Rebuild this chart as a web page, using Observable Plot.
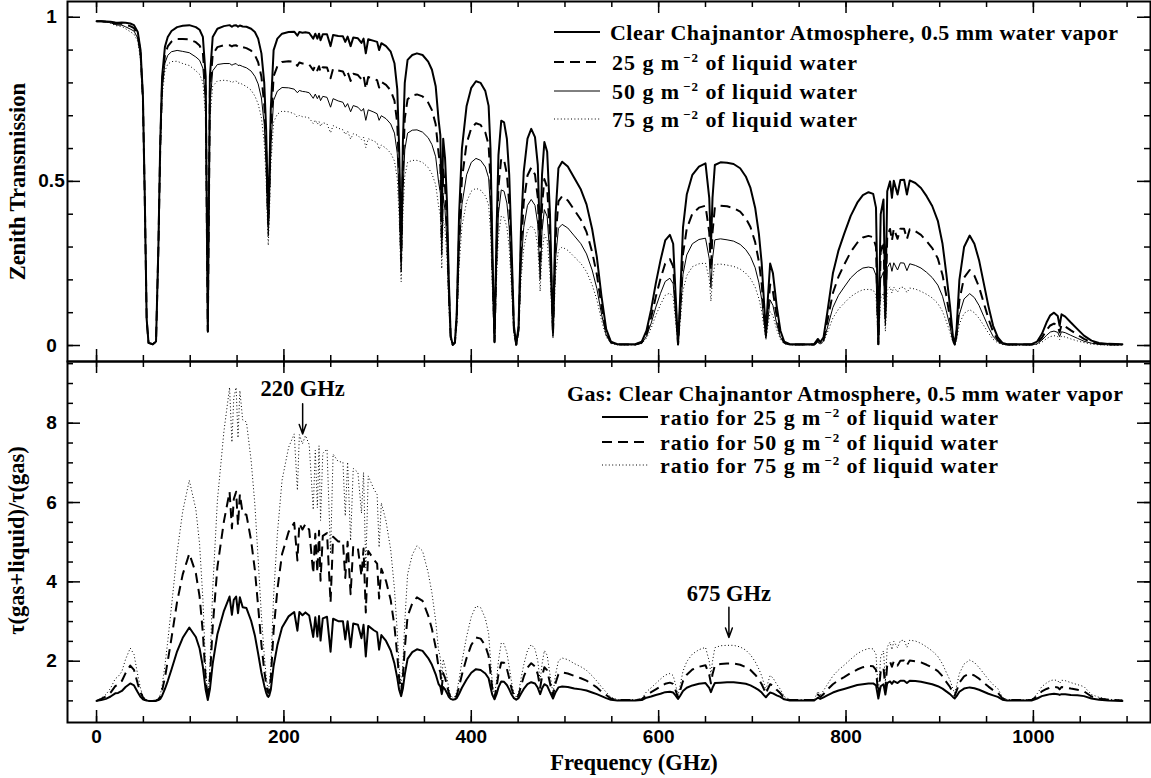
<!DOCTYPE html>
<html><head><meta charset="utf-8">
<script src="https://cdn.jsdelivr.net/npm/d3@7"></script>
<script src="https://cdn.jsdelivr.net/npm/@observablehq/plot@0.6"></script>
<style>
html,body{margin:0;padding:0;background:#fff;}
#chart{position:relative;width:1151px;height:778px;background:#fff;overflow:hidden;}
#chart svg{position:absolute;left:0;top:0;}
</style></head><body><div id="chart"></div>
<script>
// ---------------- DATA ----------------
const freq = [
0,5,10,15,20,23,27,31,36,40,
44,47,49.5,51.5,53.5,55.5,60,63.5,66,68,
70,73,76,80,86,92,99,106,110,113.5,
116.5,118.75,121,124,129,136,142,144.5,146.5,149,
151,153,156,160,165,169,172.5,176,179,181,
182.5,183.3,184.3,186,189,193,198,205,211,214.4,
216.5,219.8,223,227,231.3,233.5,235.7,237.5,239.1,241.5,
246,249.8,252.5,258,263,265.5,268,271.2,274,279,
282.8,285,287.4,290,296,299.5,301.6,304,309,314,
318,321,323,325.15,327,329,332,337,342,348,
354,358,362,365,367,368.5,370,372,374,376,
378,380.2,382.5,384.5,387,390,395,400,405,410,
415,418.5,420.5,422.5,424.8,427,429,432,435,438,
440.5,443,445.5,448,450.5,453,456,460,464,468,
471,473.5,475.5,478,481,484,487.2,490,493,497,
503,510,517,523,529,534,539,544,549,556,
575,582,587,592,597,602,607,612,615.5,618,
620.7,623,626,630,636,643,650,654,655.8,657.5,
660,666,673,680,687,693,698,703,707,710,
712.5,714.5,716.5,719,722,726,730,734,740,766,
770,772.5,776,780,786,792,798,805,812,818,
824,829,832,834.5,837,840,842,844,847,849,
851,855,858,862,865,868,874,880,886,892,
898,903,907,911,914,916,918,921,926,932,
937,942,947,952,957,962,967,972,998,1004,
1009,1014,1018,1022,1026,1028,1030,1034,1040,1047,
1054,1062,1070,1080,1095];

// Zenith transmission, clear atmosphere (0.5 mm water vapor)
const clearT = [
.988,.988,.987,.986,.984,.983,.984,.983,.981,.976,
.955,.900,.760,.450,.080,.008,.004,.012,.300,.620,
.820,.910,.940,.958,.970,.974,.976,.970,.962,.940,
.820,.045,.820,.940,.965,.973,.976,.971,.975,.976,
.971,.975,.972,.971,.965,.955,.935,.890,.800,.660,
.480,.400,.500,.720,.900,.935,.950,.955,.956,.944,
.955,.953,.954,.952,.935,.950,.935,.950,.930,.948,
.948,.912,.946,.943,.942,.925,.941,.912,.938,.936,
.922,.935,.890,.933,.928,.925,.900,.921,.912,.895,
.860,.780,.600,.300,.620,.800,.870,.885,.890,.885,
.865,.840,.790,.690,.640,.380,.630,.570,.440,.200,
.030,.002,.010,.100,.400,.600,.730,.785,.805,.800,
.775,.730,.600,.300,.012,.350,.580,.685,.680,.630,
.520,.300,.060,.003,.060,.350,.530,.630,.660,.635,
.550,.300,.520,.620,.590,.400,.040,.400,.540,.560,
.545,.510,.475,.430,.355,.270,.150,.050,.012,.004,
.004,.012,.045,.110,.190,.260,.320,.337,.310,.160,
.004,.150,.360,.460,.520,.545,.555,.450,.300,.450,
.550,.558,.557,.553,.540,.515,.480,.420,.340,.250,
.130,.040,.140,.250,.220,.120,.045,.012,.004,.004,
.020,.010,.025,.100,.220,.290,.340,.395,.435,.458,
.467,.462,.420,.005,.400,.445,.120,.470,.500,.450,
.502,.460,.504,.505,.460,.503,.495,.480,.455,.425,
.380,.310,.220,.120,.030,.003,.050,.200,.300,.335,
.310,.260,.190,.120,.060,.025,.008,.004,.004,.012,
.035,.070,.092,.100,.090,.060,.095,.088,.070,.050,
.030,.015,.008,.005,.004];

// with 25 g m^-2 of liquid water
const liq25T = [
.988,.988,.986,.985,.981,.980,.980,.977,.973,.967,
.945,.890,.751,.444,.079,.008,.004,.012,.293,.605,
.799,.885,.911,.926,.934,.934,.933,.924,.914,.891,
.776,.043,.775,.887,.909,.915,.915,.911,.914,.915,
.910,.913,.909,.906,.898,.885,.863,.819,.734,.604,
.439,.366,.457,.657,.820,.851,.864,.866,.864,.852,
.862,.859,.859,.856,.839,.853,.838,.851,.833,.848,
.847,.814,.843,.838,.835,.820,.833,.806,.828,.824,
.811,.822,.782,.818,.812,.808,.786,.803,.794,.777,
.746,.676,.520,.260,.536,.691,.750,.762,.765,.759,
.740,.717,.674,.588,.545,.323,.536,.484,.374,.170,
.025,.002,.008,.085,.338,.507,.616,.662,.677,.672,
.649,.611,.502,.251,.010,.292,.483,.570,.565,.523,
.431,.249,.050,.002,.050,.289,.437,.518,.542,.521,
.451,.246,.425,.507,.482,.326,.033,.326,.439,.455,
.442,.413,.383,.346,.285,.217,.120,.040,.010,.003,
.003,.009,.035,.086,.149,.204,.250,.263,.241,.124,
.003,.116,.279,.356,.402,.420,.426,.345,.230,.345,
.421,.426,.424,.419,.408,.388,.361,.315,.255,.187,
.097,.030,.104,.186,.164,.089,.033,.009,.003,.003,
.015,.007,.018,.073,.160,.210,.246,.285,.313,.329,
.334,.330,.300,.004,.285,.317,.085,.334,.355,.319,
.356,.325,.356,.356,.324,.354,.348,.337,.318,.297,
.265,.215,.153,.083,.021,.002,.035,.138,.207,.230,
.213,.178,.130,.082,.041,.017,.005,.003,.003,.008,
.023,.047,.061,.067,.060,.040,.063,.058,.046,.033,
.020,.010,.005,.003,.003];

// with 50 g m^-2 of liquid water
const liq50T = [
.988,.987,.986,.983,.978,.976,.976,.971,.964,.958,
.936,.880,.742,.438,.078,.008,.004,.012,.287,.591,
.778,.860,.884,.895,.899,.896,.892,.879,.869,.845,
.735,.040,.732,.837,.856,.859,.859,.854,.857,.859,
.853,.854,.850,.846,.836,.820,.797,.754,.674,.553,
.402,.334,.417,.599,.747,.775,.786,.785,.781,.770,
.777,.774,.773,.770,.753,.766,.752,.762,.746,.759,
.756,.726,.752,.745,.741,.726,.737,.712,.731,.726,
.714,.722,.686,.718,.711,.706,.686,.700,.691,.675,
.647,.586,.450,.224,.463,.596,.647,.656,.657,.650,
.633,.612,.575,.501,.464,.275,.456,.411,.318,.144,
.022,.001,.007,.072,.286,.429,.520,.558,.570,.564,
.544,.511,.419,.209,.008,.243,.402,.474,.470,.434,
.358,.206,.041,.002,.041,.238,.360,.427,.445,.427,
.369,.201,.348,.414,.393,.266,.027,.265,.357,.369,
.358,.334,.310,.279,.230,.174,.096,.032,.008,.003,
.002,.007,.028,.068,.117,.159,.195,.205,.188,.097,
.002,.090,.217,.276,.310,.323,.327,.265,.176,.264,
.322,.325,.322,.318,.308,.292,.271,.237,.191,.140,
.073,.022,.078,.139,.122,.066,.025,.007,.002,.002,
.011,.005,.013,.053,.116,.153,.178,.206,.225,.236,
.239,.236,.214,.003,.203,.225,.061,.237,.252,.226,
.252,.230,.252,.251,.228,.249,.244,.236,.223,.207,
.184,.150,.106,.058,.014,.001,.024,.095,.142,.158,
.146,.122,.089,.056,.028,.012,.004,.002,.002,.005,
.016,.031,.041,.044,.040,.027,.042,.039,.031,.022,
.013,.007,.004,.002,.002];

// with 75 g m^-2 of liquid water
const liq75T = [
.988,.987,.985,.982,.975,.973,.972,.965,.956,.948,
.927,.871,.733,.433,.077,.008,.004,.011,.281,.577,
.758,.837,.857,.865,.866,.859,.853,.837,.826,.802,
.695,.038,.691,.790,.806,.808,.806,.801,.804,.806,
.799,.800,.795,.789,.778,.760,.736,.694,.618,.507,
.368,.305,.381,.546,.681,.705,.714,.712,.706,.695,
.701,.697,.696,.693,.676,.687,.674,.683,.668,.679,
.675,.648,.670,.662,.657,.643,.653,.629,.645,.640,
.628,.635,.603,.630,.623,.617,.598,.611,.601,.586,
.562,.508,.390,.194,.400,.515,.558,.564,.564,.558,
.542,.523,.490,.427,.395,.234,.388,.350,.270,.122,
.018,.001,.006,.061,.242,.362,.438,.470,.479,.473,
.456,.428,.351,.175,.007,.203,.335,.394,.390,.361,
.297,.171,.034,.002,.034,.197,.297,.351,.365,.351,
.303,.165,.285,.338,.321,.217,.022,.216,.290,.300,
.290,.270,.250,.225,.185,.140,.077,.026,.006,.002,
.002,.006,.022,.053,.092,.125,.153,.160,.146,.075,
.002,.070,.168,.213,.240,.249,.251,.203,.135,.203,
.247,.248,.245,.241,.233,.220,.204,.178,.143,.105,
.054,.017,.058,.103,.091,.049,.018,.005,.002,.002,
.008,.004,.010,.039,.084,.111,.129,.149,.162,.170,
.171,.169,.153,.002,.145,.160,.043,.168,.179,.160,
.178,.163,.178,.177,.161,.175,.172,.165,.156,.145,
.128,.104,.074,.040,.010,.001,.016,.066,.098,.109,
.100,.083,.061,.038,.019,.008,.003,.001,.001,.004,
.010,.021,.027,.030,.027,.018,.028,.026,.020,.014,
.009,.004,.002,.001,.001];

// tau(gas+liquid)/tau(gas) for 25, 50, 75 g m^-2
const ratio25 = [
1.00,1.02,1.05,1.11,1.19,1.20,1.25,1.35,1.44,1.39,
1.22,1.10,1.04,1.02,1.01,1.00,1.00,1.00,1.02,1.05,
1.13,1.30,1.50,1.79,2.25,2.59,2.85,2.61,2.32,1.86,
1.28,1.02,1.29,1.94,2.68,3.27,3.63,3.17,3.55,3.63,
3.21,3.61,3.36,3.34,3.02,2.65,2.19,1.71,1.39,1.21,
1.12,1.10,1.13,1.28,1.88,2.40,2.85,3.13,3.24,2.77,
3.24,3.16,3.23,3.15,2.61,3.11,2.62,3.14,2.52,3.08,
3.12,2.24,3.07,3.01,3.01,2.55,3.01,2.35,2.95,2.92,
2.58,2.92,2.12,2.89,2.78,2.73,2.29,2.66,2.51,2.27,
1.94,1.58,1.28,1.12,1.31,1.66,2.06,2.23,2.30,2.26,
2.08,1.91,1.67,1.43,1.36,1.17,1.35,1.29,1.20,1.10,
1.05,1.03,1.04,1.07,1.18,1.33,1.54,1.71,1.80,1.78,
1.69,1.57,1.35,1.15,1.04,1.17,1.34,1.49,1.48,1.40,
1.29,1.16,1.07,1.03,1.07,1.18,1.30,1.42,1.47,1.44,
1.33,1.17,1.31,1.42,1.38,1.22,1.06,1.22,1.34,1.36,
1.35,1.31,1.29,1.26,1.21,1.17,1.12,1.07,1.03,1.01,
1.01,1.02,1.08,1.11,1.15,1.18,1.22,1.23,1.21,1.14,
1.05,1.13,1.25,1.33,1.39,1.43,1.45,1.33,1.22,1.33,
1.45,1.46,1.47,1.47,1.45,1.43,1.39,1.33,1.27,1.21,
1.14,1.09,1.15,1.21,1.19,1.14,1.10,1.04,1.01,1.01,
1.08,1.05,1.09,1.14,1.21,1.26,1.30,1.35,1.40,1.42,
1.44,1.44,1.39,1.06,1.37,1.42,1.16,1.45,1.49,1.43,
1.50,1.45,1.51,1.51,1.45,1.51,1.50,1.48,1.45,1.42,
1.37,1.31,1.24,1.17,1.10,1.06,1.12,1.23,1.31,1.34,
1.32,1.28,1.23,1.18,1.14,1.10,1.03,1.01,1.01,1.06,
1.12,1.15,1.17,1.18,1.17,1.15,1.17,1.17,1.15,1.14,
1.12,1.06,1.03,1.01,1.00];

const ratio50 = [
1.00,1.05,1.11,1.21,1.37,1.41,1.50,1.70,1.89,1.78,
1.43,1.21,1.09,1.03,1.01,1.00,1.00,1.01,1.04,1.10,
1.26,1.59,2.00,2.58,3.50,4.19,4.71,4.22,3.63,2.71,
1.55,1.04,1.57,2.87,4.37,5.53,6.27,5.35,6.09,6.27,
5.42,6.21,5.72,5.69,5.04,4.30,3.38,2.42,1.77,1.42,
1.24,1.20,1.26,1.56,2.77,3.80,4.70,5.26,5.49,4.54,
5.47,5.32,5.46,5.31,4.21,5.21,4.24,5.29,4.03,5.16,
5.23,3.48,5.14,5.02,5.02,4.10,5.01,3.69,4.91,4.84,
4.15,4.84,3.23,4.78,4.56,4.46,3.58,4.33,4.02,3.54,
2.88,2.15,1.56,1.24,1.61,2.32,3.13,3.46,3.61,3.52,
3.15,2.81,2.35,1.86,1.72,1.33,1.70,1.58,1.40,1.20,
1.09,1.05,1.07,1.14,1.36,1.66,2.08,2.41,2.60,2.57,
2.39,2.13,1.70,1.30,1.08,1.35,1.67,1.97,1.96,1.81,
1.57,1.31,1.13,1.07,1.14,1.37,1.61,1.84,1.95,1.87,
1.67,1.33,1.61,1.85,1.77,1.45,1.13,1.45,1.67,1.72,
1.69,1.63,1.57,1.51,1.42,1.34,1.23,1.15,1.06,1.02,
1.02,1.04,1.15,1.22,1.29,1.36,1.43,1.46,1.43,1.27,
1.09,1.27,1.50,1.66,1.79,1.86,1.90,1.66,1.44,1.67,
1.89,1.93,1.94,1.94,1.91,1.85,1.78,1.66,1.54,1.42,
1.29,1.18,1.30,1.42,1.39,1.28,1.19,1.07,1.02,1.02,
1.16,1.10,1.17,1.28,1.42,1.52,1.60,1.70,1.79,1.85,
1.88,1.87,1.78,1.13,1.74,1.84,1.32,1.91,1.99,1.86,
2.00,1.89,2.01,2.02,1.90,2.02,2.00,1.97,1.91,1.84,
1.75,1.62,1.48,1.35,1.21,1.13,1.25,1.46,1.62,1.69,
1.64,1.56,1.46,1.36,1.27,1.21,1.06,1.02,1.02,1.12,
1.24,1.30,1.34,1.35,1.34,1.29,1.35,1.34,1.31,1.28,
1.24,1.11,1.06,1.03,1.01];

const ratio75 = [
1.00,1.07,1.16,1.32,1.56,1.61,1.74,2.05,2.33,2.17,
1.65,1.31,1.13,1.05,1.02,1.01,1.01,1.01,1.05,1.15,
1.39,1.89,2.50,3.38,4.74,5.78,6.56,5.83,4.95,3.57,
1.83,1.05,1.86,3.81,6.05,7.80,8.90,7.52,8.64,8.90,
7.63,8.82,8.08,8.03,7.06,5.95,4.57,3.14,2.16,1.64,
1.36,1.29,1.39,1.84,3.65,5.20,6.56,7.39,7.73,6.31,
7.71,7.48,7.69,7.46,5.82,7.32,5.87,7.43,5.55,7.24,
7.35,4.71,7.22,7.03,7.02,5.66,7.02,5.04,6.86,6.76,
5.73,6.76,4.35,6.67,6.34,6.20,4.87,5.99,5.53,4.81,
3.82,2.73,1.85,1.36,1.92,2.98,4.19,4.68,4.91,4.78,
4.23,3.72,3.02,2.29,2.08,1.50,2.05,1.87,1.60,1.31,
1.14,1.08,1.11,1.22,1.55,1.99,2.62,3.12,3.39,3.35,
3.08,2.70,2.05,1.45,1.12,1.52,2.01,2.46,2.44,2.21,
1.86,1.47,1.20,1.10,1.20,1.55,1.91,2.27,2.42,2.31,
2.00,1.50,1.92,2.27,2.15,1.67,1.19,1.67,2.01,2.08,
2.04,1.94,1.86,1.77,1.63,1.50,1.35,1.22,1.09,1.03,
1.03,1.05,1.23,1.33,1.44,1.55,1.65,1.69,1.64,1.41,
1.14,1.40,1.75,1.99,2.18,2.29,2.35,2.00,1.66,2.00,
2.34,2.39,2.40,2.40,2.36,2.28,2.16,1.99,1.80,1.63,
1.43,1.27,1.45,1.64,1.58,1.42,1.29,1.11,1.03,1.03,
1.24,1.15,1.26,1.41,1.63,1.78,1.90,2.05,2.19,2.27,
2.32,2.31,2.17,1.19,2.11,2.26,1.48,2.36,2.48,2.29,
2.50,2.34,2.52,2.53,2.35,2.53,2.51,2.45,2.36,2.26,
2.12,1.93,1.72,1.52,1.31,1.19,1.37,1.69,1.93,2.03,
1.97,1.84,1.69,1.54,1.41,1.31,1.09,1.03,1.03,1.18,
1.36,1.45,1.51,1.53,1.51,1.44,1.52,1.51,1.46,1.41,
1.36,1.16,1.09,1.04,1.02];

// tick values and labels
const xMajorTicks = [0, 200, 400, 600, 800, 1000];
const xMinorTicks = [0,50,100,150,200,250,300,350,400,450,500,550,600,650,700,750,800,850,900,950,1000,1050,1100];
const yTopMajorTicks = [0, 0.5, 1];
const yTopMinorTicks = [0,0.1,0.2,0.3,0.4,0.5,0.6,0.7,0.8,0.9,1];
const yBotMajorTicks = [2, 4, 6, 8];
const yBotMinorTicks = [1,1.5,2,2.5,3,3.5,4,4.5,5,5.5,6,6.5,7,7.5,8,8.5,9,9.5];

// texts
const xLabel = "Frequency (GHz)";
const yTopLabel = "Zenith Transmission";
const yBotLabel = "\u03c4(gas+liquid)/\u03c4(gas)";
const legendTop = [
  ["Clear Chajnantor Atmosphere, 0.5 mm water vapor"],
  ["25 g m", "\u22122", " of liquid water"],
  ["50 g m", "\u22122", " of liquid water"],
  ["75 g m", "\u22122", " of liquid water"]
];
const legendBot = [
  ["Gas: Clear Chajnantor Atmosphere, 0.5 mm water vapor"],
  ["ratio for 25 g m", "\u22122", " of liquid water"],
  ["ratio for 50 g m", "\u22122", " of liquid water"],
  ["ratio for 75 g m", "\u22122", " of liquid water"]
];
const annotLabels = ["220 GHz", "675 GHz"];
const annotFreq = [220, 675];
const annotTextY = [8.87, 3.71];
const annotArrowFrom = [8.49, 3.36];
const annotArrowTo = [7.73, 2.60];

// ---------------- RENDERING ----------------
const W = 1151, H = 778;
const serif = "'Liberation Serif','Times New Roman',serif";
const sans = "'Liberation Sans',Arial,sans-serif";
const mL = 67, mR = 1;
const innerW = W - mL - mR;
const xDomain = [-31, 1125];
const topY0 = 1, topY1 = 361, botY0 = 361, botY1 = 722;

const rows = vals => freq.map((f, i) => ({f, v: vals[i]}));

const styleSolidThick = {strokeWidth: 2};
const styleDashThick = {strokeWidth: 2, strokeDasharray: "10,6", strokeLinecap: "butt"};
const styleThin = {strokeWidth: 1};
const styleDot = {strokeWidth: 1, strokeDasharray: "1,2.4", strokeLinecap: "butt"};

function tickMarks(innerH, xMaj, xMin, yMaj, yMin) {
  const s = {stroke: "black", strokeWidth: 1.5};
  const id = d => d;
  return [
    Plot.tickX(xMin, {x: id, insetTop: innerH - 6, ...s}),
    Plot.tickX(xMaj, {x: id, insetTop: innerH - 12, ...s}),
    Plot.tickX(xMin, {x: id, insetBottom: innerH - 6, ...s}),
    Plot.tickX(xMaj, {x: id, insetBottom: innerH - 12, ...s}),
    Plot.tickY(yMin, {y: id, insetRight: innerW - 6, ...s}),
    Plot.tickY(yMaj, {y: id, insetRight: innerW - 13, ...s}),
    Plot.tickY(yMin, {y: id, insetLeft: innerW - 6, ...s}),
    Plot.tickY(yMaj, {y: id, insetLeft: innerW - 13, ...s})
  ];
}

const tickFont = {fontFamily: sans, fontSize: 19, fontWeight: "bold", fill: "black"};
const serifFont = {fontFamily: serif, fontSize: 22.5, fontWeight: "bold", fill: "black"};

const topPlot = Plot.plot({
  width: W, height: H,
  marginLeft: mL, marginRight: mR, marginTop: topY0, marginBottom: H - topY1,
  x: {domain: xDomain, axis: null},
  y: {domain: [-0.0487, 1.048], axis: null},
  style: {background: "transparent", overflow: "visible"},
  marks: [
    Plot.line(rows(liq75T), {x: "f", y: "v", stroke: "black", ...styleDot}),
    Plot.line(rows(liq50T), {x: "f", y: "v", stroke: "black", ...styleThin}),
    Plot.line(rows(liq25T), {x: "f", y: "v", stroke: "black", ...styleDashThick}),
    Plot.line(rows(clearT), {x: "f", y: "v", stroke: "black", ...styleSolidThick}),
    ...tickMarks(topY1 - topY0, xMajorTicks, xMinorTicks, yTopMajorTicks, yTopMinorTicks),
    Plot.frame({stroke: "black", strokeWidth: 2}),
    Plot.text(yTopMajorTicks, {y: d => d, text: d => String(d), frameAnchor: "left", dx: -16, textAnchor: "middle", ...tickFont})
  ]
});

const botPlot = Plot.plot({
  width: W, height: H,
  marginLeft: mL, marginRight: mR, marginTop: botY0, marginBottom: H - botY1,
  x: {domain: xDomain, axis: null},
  y: {domain: [0.455, 9.555], axis: null},
  style: {background: "transparent", overflow: "visible"},
  marks: [
    Plot.line(rows(ratio75), {x: "f", y: "v", stroke: "black", ...styleDot}),
    Plot.line(rows(ratio50), {x: "f", y: "v", stroke: "black", ...styleDashThick}),
    Plot.line(rows(ratio25), {x: "f", y: "v", stroke: "black", ...styleSolidThick}),
    ...tickMarks(botY1 - botY0, xMajorTicks, xMinorTicks, yBotMajorTicks, yBotMinorTicks),
    Plot.frame({stroke: "black", strokeWidth: 2}),
    Plot.text(yBotMajorTicks, {y: d => d, text: d => String(d), frameAnchor: "left", dx: -16, textAnchor: "middle", ...tickFont}),
    Plot.text(xMajorTicks, {x: d => d, text: d => String(d), frameAnchor: "bottom", dy: 20, ...tickFont}),
    Plot.arrow(annotFreq, {x1: d => d, x2: d => d, y1: (d, i) => annotArrowFrom[i], y2: (d, i) => annotArrowTo[i], stroke: "black", strokeWidth: 1.5, headLength: 10, headAngle: 40}),
    Plot.text(annotFreq, {x: d => d, y: (d, i) => annotTextY[i], text: (d, i) => annotLabels[i], ...serifFont})
  ]
});

const chart = document.getElementById("chart");
chart.appendChild(topPlot);
chart.appendChild(botPlot);

// legends and axis titles (layout in pixels)
function addLegend(svg, labels, opts) {
  const g = d3.select(svg).append("g").attr("class", "legend").attr("text-anchor", "start");
  labels.forEach((parts, i) => {
    const y = opts.baselines[i];
    const x = i === 0 ? opts.x0 : opts.x;
    const t = g.append("text").attr("x", x).attr("y", y).attr("text-anchor", "start")
      .attr("font-family", serif).attr("font-size", 22).attr("font-weight", "bold")
      .attr("fill", "black").style("white-space", "pre");
    t.append("tspan").text(parts[0]);
    if (parts.length > 1) {
      t.append("tspan").attr("dx", 3).attr("dy", -8).attr("font-size", 13).text(parts[1]);
      t.append("tspan").attr("dy", 8).text(parts[2]);
    }
    if (opts.widths && opts.widths[i]) t.attr("textLength", opts.widths[i]).attr("lengthAdjust", "spacing");
    const st = opts.samples[i];
    if (st) {
      g.append("line").attr("x1", opts.sx1).attr("x2", opts.sx2)
        .attr("y1", y - 8).attr("y2", y - 8)
        .attr("stroke", "black").attr("stroke-width", st.strokeWidth)
        .attr("stroke-dasharray", st.strokeDasharray || null);
    }
  });
}

addLegend(topPlot, legendTop, {
  x0: 610, x: 612, baselines: [40, 70, 99, 127], sx1: 554, sx2: 600,
  widths: [508, 245, 245, 245],
  samples: [styleSolidThick, styleDashThick, styleThin, styleDot]
});
addLegend(botPlot, legendBot, {
  x0: 567, x: 660, baselines: [401, 425, 450, 473], sx1: 602, sx2: 648,
  widths: [556, 338, 338, 338],
  samples: [null, styleSolidThick, styleDashThick, styleDot]
});

const bsvg = d3.select(botPlot);
bsvg.append("text").attr("x", 634).attr("y", 770).attr("text-anchor", "middle")
  .attr("font-family", serif).attr("font-size", 22.5).attr("font-weight", "bold").text(xLabel);
bsvg.append("text").attr("transform", "translate(24,540.5) rotate(-90)").attr("text-anchor", "middle")
  .attr("font-family", serif).attr("font-size", 22.5).attr("font-weight", "bold").text(yBotLabel);
d3.select(topPlot).append("text").attr("transform", "translate(25,181.7) rotate(-90)").attr("text-anchor", "middle")
  .attr("font-family", serif).attr("font-size", 22.5).attr("font-weight", "bold").text(yTopLabel);
</script></body></html>
